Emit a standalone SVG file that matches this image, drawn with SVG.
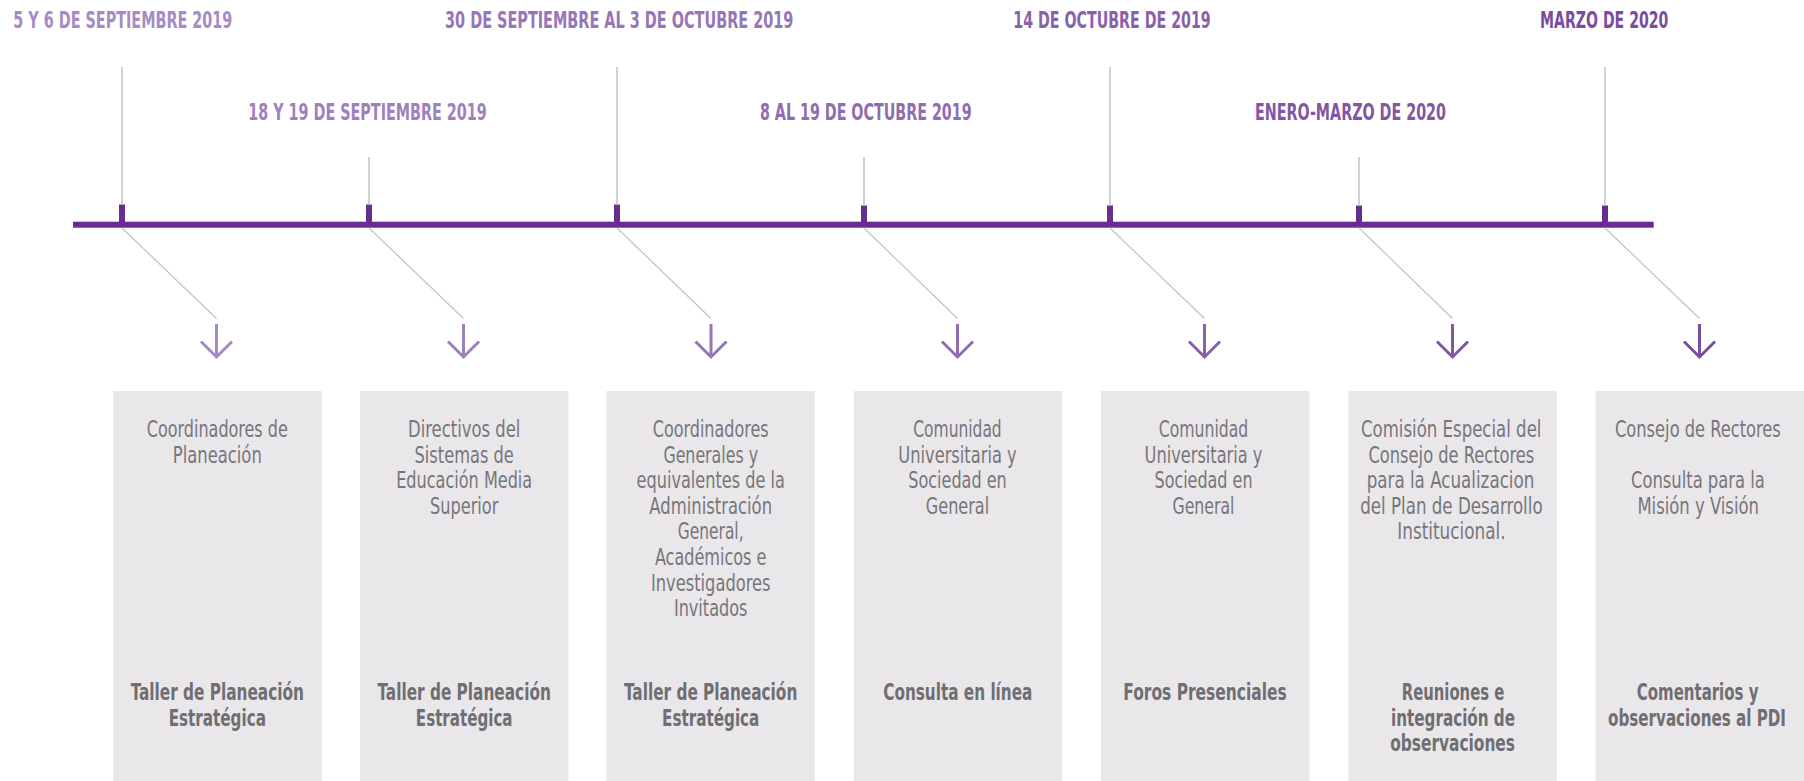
<svg xmlns="http://www.w3.org/2000/svg" width="1804" height="781" viewBox="0 0 1804 781">
<defs>
<style>
.date{font-family:"Liberation Sans Narrow","DejaVu Sans Condensed","Liberation Sans",sans-serif;font-weight:bold;font-size:23px;text-anchor:middle}
.box{fill:#e9e7e9}
.t{font-family:"Liberation Sans Narrow","DejaVu Sans Condensed","Liberation Sans",sans-serif;font-size:23px;fill:#77767b;text-anchor:middle}
.b{font-family:"Liberation Sans Narrow","DejaVu Sans Condensed","Liberation Sans",sans-serif;font-size:23px;font-weight:bold;fill:#6f6e73;text-anchor:middle}
.gl{stroke:#bdbdc0;stroke-width:1.4;fill:none}
.dg{stroke:#c2c2c4;stroke-width:1.2;fill:none}
.ar{stroke-width:3;fill:none;stroke-linejoin:miter;stroke-linecap:butt}
.tick{fill:#6a2c8e}
</style>
</defs>
<rect width="1804" height="781" fill="#ffffff"/>

<g id="timeline">
<rect class="tick" x="73" y="221.7" width="1580.7" height="6"/>
<rect class="tick" x="119" y="204.5" width="6" height="20"/>
<rect class="tick" x="366" y="204.5" width="6" height="20"/>
<rect class="tick" x="614" y="204.5" width="6" height="20"/>
<rect class="tick" x="861" y="205.5" width="6" height="19"/>
<rect class="tick" x="1107" y="205.5" width="6" height="19"/>
<rect class="tick" x="1356" y="205.5" width="6" height="19"/>
<rect class="tick" x="1602" y="205.5" width="6" height="19"/>
</g>

<g id="connectors">
<line class="gl" x1="122" y1="67" x2="122" y2="205"/>
<line class="gl" x1="369" y1="157" x2="369" y2="205"/>
<line class="gl" x1="617" y1="67" x2="617" y2="205"/>
<line class="gl" x1="864" y1="157" x2="864" y2="206"/>
<line class="gl" x1="1110" y1="67" x2="1110" y2="206"/>
<line class="gl" x1="1359" y1="157" x2="1359" y2="206"/>
<line class="gl" x1="1605" y1="67" x2="1605" y2="206"/>
<line class="dg" x1="122" y1="228" x2="216.5" y2="318.5"/>
<line class="dg" x1="369" y1="228" x2="463.5" y2="318.5"/>
<line class="dg" x1="617" y1="228" x2="711" y2="318.5"/>
<line class="dg" x1="864" y1="228" x2="957.5" y2="318.5"/>
<line class="dg" x1="1110" y1="228" x2="1204.5" y2="318.5"/>
<line class="dg" x1="1359" y1="228" x2="1452.5" y2="318.5"/>
<line class="dg" x1="1605" y1="228" x2="1699.5" y2="318.5"/>
<path class="ar" stroke="#a589c3" d="M216.5 324V356M201 341.5L216.5 357L232 341.5"/>
<path class="ar" stroke="#9f80bd" d="M463.5 324V356M448 341.5L463.5 357L479 341.5"/>
<path class="ar" stroke="#9776b7" d="M711 324V356M695.5 341.5L711 357L726.5 341.5"/>
<path class="ar" stroke="#906cb0" d="M957.5 324V356M942 341.5L957.5 357L973 341.5"/>
<path class="ar" stroke="#8961aa" d="M1204.5 324V356M1189 341.5L1204.5 357L1220 341.5"/>
<path class="ar" stroke="#8156a3" d="M1452.5 324V356M1437 341.5L1452.5 357L1468 341.5"/>
<path class="ar" stroke="#7a4c9d" d="M1699.5 324V356M1684 341.5L1699.5 357L1715 341.5"/>
</g>

<g id="date-1"><text class="date" fill="#a68bc4" x="122.8" y="28.3" textLength="219" lengthAdjust="spacingAndGlyphs">5 Y 6 DE SEPTIEMBRE 2019</text></g>
<g id="date-2"><text class="date" fill="#9f80bd" x="367.5" y="120" textLength="238.4" lengthAdjust="spacingAndGlyphs">18 Y 19 DE SEPTIEMBRE 2019</text></g>
<g id="date-3"><text class="date" fill="#9776b7" x="619.2" y="28.3" textLength="348.3" lengthAdjust="spacingAndGlyphs">30 DE SEPTIEMBRE AL 3 DE OCTUBRE 2019</text></g>
<g id="date-4"><text class="date" fill="#906cb0" x="865.8" y="120" textLength="211.7" lengthAdjust="spacingAndGlyphs">8 AL 19 DE OCTUBRE 2019</text></g>
<g id="date-5"><text class="date" fill="#8961aa" x="1112" y="28.3" textLength="197.4" lengthAdjust="spacingAndGlyphs">14 DE OCTUBRE DE 2019</text></g>
<g id="date-6"><text class="date" fill="#8156a3" x="1350.5" y="120" textLength="191" lengthAdjust="spacingAndGlyphs">ENERO-MARZO DE 2020</text></g>
<g id="date-7"><text class="date" fill="#7a4c9d" x="1604.2" y="28.3" textLength="128.3" lengthAdjust="spacingAndGlyphs">MARZO DE 2020</text></g>

<g id="box-1">
<rect class="box" x="113.3" y="391" width="208.4" height="390"/>
<text class="t" x="217.3" y="437" textLength="141" lengthAdjust="spacingAndGlyphs">Coordinadores de</text>
<text class="t" x="217.3" y="462.6" textLength="89" lengthAdjust="spacingAndGlyphs">Planeación</text>
<text class="b" x="217.3" y="700" textLength="173.3" lengthAdjust="spacingAndGlyphs">Taller de Planeación</text>
<text class="b" x="217.3" y="725.6" textLength="97.3" lengthAdjust="spacingAndGlyphs">Estratégica</text>
</g>

<g id="box-2">
<rect class="box" x="360" y="391" width="208.4" height="390"/>
<text class="t" x="464.2" y="437" textLength="112.3" lengthAdjust="spacingAndGlyphs">Directivos del</text>
<text class="t" x="464.2" y="462.6" textLength="99.3" lengthAdjust="spacingAndGlyphs">Sistemas de</text>
<text class="t" x="464.2" y="488.2" textLength="136" lengthAdjust="spacingAndGlyphs">Educación Media</text>
<text class="t" x="464.2" y="513.8" textLength="68.4" lengthAdjust="spacingAndGlyphs">Superior</text>
<text class="b" x="464.2" y="700" textLength="173.3" lengthAdjust="spacingAndGlyphs">Taller de Planeación</text>
<text class="b" x="464.2" y="725.6" textLength="96.7" lengthAdjust="spacingAndGlyphs">Estratégica</text>
</g>

<g id="box-3">
<rect class="box" x="606.5" y="391" width="208.4" height="390"/>
<text class="t" x="710.7" y="437" textLength="116" lengthAdjust="spacingAndGlyphs">Coordinadores</text>
<text class="t" x="710.7" y="462.6" textLength="94.6" lengthAdjust="spacingAndGlyphs">Generales y</text>
<text class="t" x="710.7" y="488.2" textLength="148.2" lengthAdjust="spacingAndGlyphs">equivalentes de la</text>
<text class="t" x="710.7" y="513.8" textLength="122.8" lengthAdjust="spacingAndGlyphs">Administración</text>
<text class="t" x="710.7" y="539.4" textLength="65.7" lengthAdjust="spacingAndGlyphs">General,</text>
<text class="t" x="710.7" y="565" textLength="111.6" lengthAdjust="spacingAndGlyphs">Académicos e</text>
<text class="t" x="710.7" y="590.6" textLength="119.6" lengthAdjust="spacingAndGlyphs">Investigadores</text>
<text class="t" x="710.7" y="616.2" textLength="73.6" lengthAdjust="spacingAndGlyphs">Invitados</text>
<text class="b" x="710.7" y="700" textLength="173.2" lengthAdjust="spacingAndGlyphs">Taller de Planeación</text>
<text class="b" x="710.7" y="725.6" textLength="97.3" lengthAdjust="spacingAndGlyphs">Estratégica</text>
</g>

<g id="box-4">
<rect class="box" x="854" y="391" width="208.4" height="390"/>
<text class="t" x="957.5" y="437" textLength="88.4" lengthAdjust="spacingAndGlyphs">Comunidad</text>
<text class="t" x="957.5" y="462.6" textLength="118.4" lengthAdjust="spacingAndGlyphs">Universitaria y</text>
<text class="t" x="957.5" y="488.2" textLength="98.6" lengthAdjust="spacingAndGlyphs">Sociedad en</text>
<text class="t" x="957.5" y="513.8" textLength="63.4" lengthAdjust="spacingAndGlyphs">General</text>
<text class="b" x="957.8" y="700" textLength="149.2" lengthAdjust="spacingAndGlyphs">Consulta en línea</text>
</g>

<g id="box-5">
<rect class="box" x="1101" y="391" width="208.4" height="390"/>
<text class="t" x="1203.5" y="437" textLength="89.6" lengthAdjust="spacingAndGlyphs">Comunidad</text>
<text class="t" x="1203.5" y="462.6" textLength="117.8" lengthAdjust="spacingAndGlyphs">Universitaria y</text>
<text class="t" x="1203.5" y="488.2" textLength="98" lengthAdjust="spacingAndGlyphs">Sociedad en</text>
<text class="t" x="1203.5" y="513.8" textLength="62" lengthAdjust="spacingAndGlyphs">General</text>
<text class="b" x="1205" y="700" textLength="163.3" lengthAdjust="spacingAndGlyphs">Foros Presenciales</text>
</g>

<g id="box-6">
<rect class="box" x="1348.4" y="391" width="208.4" height="390"/>
<text class="t" x="1451.2" y="437" textLength="180.5" lengthAdjust="spacingAndGlyphs">Comisión Especial del</text>
<text class="t" x="1451.4" y="462.6" textLength="165.8" lengthAdjust="spacingAndGlyphs">Consejo de Rectores</text>
<text class="t" x="1450.5" y="488.2" textLength="167.7" lengthAdjust="spacingAndGlyphs">para la Acualizacion</text>
<text class="t" x="1451.4" y="513.8" textLength="182.4" lengthAdjust="spacingAndGlyphs">del Plan de Desarrollo</text>
<text class="t" x="1451.4" y="539.4" textLength="108.2" lengthAdjust="spacingAndGlyphs">Institucional.</text>
<text class="b" x="1453" y="700" textLength="102.4" lengthAdjust="spacingAndGlyphs">Reuniones e</text>
<text class="b" x="1453" y="725.6" textLength="124.1" lengthAdjust="spacingAndGlyphs">integración de</text>
<text class="b" x="1452.6" y="751.2" textLength="124.8" lengthAdjust="spacingAndGlyphs">observaciones</text>
</g>

<g id="box-7">
<rect class="box" x="1595.7" y="391" width="208.4" height="390"/>
<text class="t" x="1697.9" y="437" textLength="165.8" lengthAdjust="spacingAndGlyphs">Consejo de Rectores</text>
<text class="t" x="1697.9" y="488.2" textLength="133.8" lengthAdjust="spacingAndGlyphs">Consulta para la</text>
<text class="t" x="1698.2" y="513.8" textLength="121.6" lengthAdjust="spacingAndGlyphs">Misión y Visión</text>
<text class="b" x="1697.6" y="700" textLength="121.6" lengthAdjust="spacingAndGlyphs">Comentarios y</text>
<text class="b" x="1697" y="725.6" textLength="178" lengthAdjust="spacingAndGlyphs">observaciones al PDI</text>
</g>
</svg>
